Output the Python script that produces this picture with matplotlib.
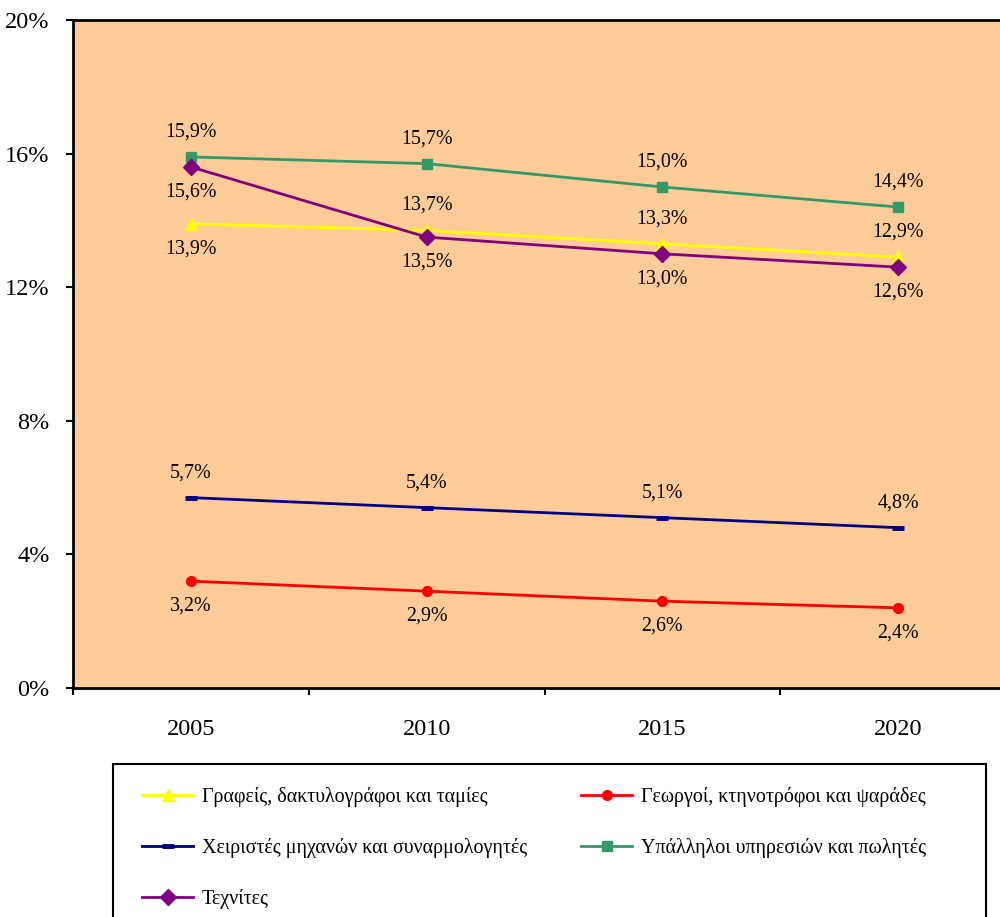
import matplotlib.pyplot as plt
from matplotlib.patches import Rectangle

plt.rcParams['font.family'] = ['Liberation Serif', 'DejaVu Serif']

years = ['2005', '2010', '2015', '2020']

grafeis = [13.9, 13.7, 13.3, 12.9]
georgoi = [3.2, 2.9, 2.6, 2.4]
xeiristes = [5.7, 5.4, 5.1, 4.8]
ypalliloi = [15.9, 15.7, 15.0, 14.4]
texnites = [15.6, 13.5, 13.0, 12.6]

names = ['Γραφείς, δακτυλογράφοι και ταμίες',
         'Γεωργοί, κτηνοτρόφοι και ψαράδες',
         'Χειριστές μηχανών και συναρμολογητές',
         'Υπάλληλοι υπηρεσιών και πωλητές',
         'Τεχνίτες']

# label placement per point: +1 above, -1 below
pos_grafeis = [-1, 1, 1, 1]
pos_georgoi = [-1, -1, -1, -1]
pos_xeiristes = [1, 1, 1, 1]
pos_ypalliloi = [1, 1, 1, 1]
pos_texnites = [-1, -1, -1, -1]

fig = plt.figure(figsize=(10, 9.17), dpi=100)
ax = fig.add_axes([0.073, 1 - 688 / 917, 0.943, 668 / 917])
ax.set_facecolor('#FFCC99')

x = list(range(len(years)))

series = [
    (grafeis, pos_grafeis, '#FFFF00', dict(marker='^', markersize=8)),
    (georgoi, pos_georgoi, '#FF0000', dict(marker='o', markersize=7)),
    (xeiristes, pos_xeiristes, '#000080', dict(marker='_', markersize=8, markeredgewidth=3.5)),
    (ypalliloi, pos_ypalliloi, '#339966', dict(marker='s', markersize=7)),
    (texnites, pos_texnites, '#800080', dict(marker='D', markersize=8)),
]

handles = []
for (vals, pos, col, mk), name in zip(series, names):
    h, = ax.plot(x, vals, color=col, linewidth=2, label=name, **mk)
    handles.append(h)
    for xi, v, p in zip(x, vals, pos):
        lbl = f"{v:.1f}%".replace('.', ',')
        ax.annotate(lbl, (xi, v), xytext=(0, 18 * p), textcoords='offset points',
                    ha='center', va='center', fontsize=14.4)

ax.set_xlim(-0.5, 3.5)
ax.set_ylim(0, 20)
ax.set_yticks([0, 4, 8, 12, 16, 20])
ax.set_yticklabels(['0%', '4%', '8%', '12%', '16%', '20%'], fontsize=17.5)
ax.set_xticks(x)
ax.set_xticklabels(years, fontsize=17.5)
ax.set_xticks([-0.5, 0.5, 1.5, 2.5, 3.5], minor=True)
ax.tick_params(axis='x', which='major', length=0, pad=22)
ax.tick_params(axis='x', which='minor', length=5, width=1.5, direction='out')
ax.tick_params(axis='y', length=5, width=1.5, direction='out', pad=12)

for s in ['left', 'bottom', 'top', 'right']:
    ax.spines[s].set_linewidth(2)

# legend box drawn separately so its width matches the original
top = 1 - 764 / 917
fig.patches.append(Rectangle((0.113, -0.05), 0.873, top + 0.05, transform=fig.transFigure,
                             fill=False, edgecolor='black', linewidth=1.5))

# legend fills columns first, so reorder to get row-wise layout
order = [0, 2, 4, 1, 3]
leg = fig.legend([handles[i] for i in order], [names[i] for i in order],
                 loc='upper left', bbox_to_anchor=(0.142, 1 - 787 / 917),
                 ncol=2, fontsize=14.4, frameon=False,
                 handlelength=2.55, handletextpad=0.45, columnspacing=2.7,
                 labelspacing=1.55, borderpad=0, borderaxespad=0)

fig.savefig('out.png', dpi=100)
